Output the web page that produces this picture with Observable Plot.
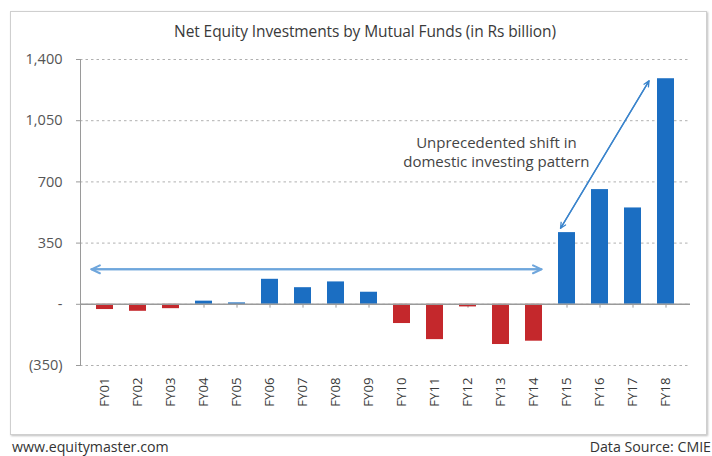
<!DOCTYPE html>
<html>
<head>
<meta charset="utf-8">
<script src="https://cdn.jsdelivr.net/npm/d3@7"></script>
<script src="https://cdn.jsdelivr.net/npm/@observablehq/plot@0.6"></script>
<style>
  html, body { margin: 0; padding: 0; background: #fff; }
  body { width: 712px; height: 456px; position: relative; overflow: hidden; font-family: "Open Sans", sans-serif; }
  .box { position: absolute; left: 10px; top: 11px; width: 695px; height: 422px; border: 1px solid #cfcfcf; box-shadow: 1px 1px 2px #bdbdbd; }
  .title { position: absolute; left: 0; top: 21px; width: 730px; text-align: center; font-size: 15.5px; line-height: 20px; color: #3a3a3a; letter-spacing: -0.1px; }
  #chart { position: absolute; left: 0; top: 0; }
  .foot { position: absolute; top: 438px; font-size: 14.2px; line-height: 18px; color: #333; }
</style>
</head>
<body>
<div class="box"></div>
<div id="chart"></div>
<div class="title">Net Equity Investments by Mutual Funds (in Rs billion)</div>
<div class="foot" style="left:12px;">www.equitymaster.com</div>
<div class="foot" style="right:1px;text-align:right;">Data Source: CMIE</div>
<script>
const years = ["FY01","FY02","FY03","FY04","FY05","FY06","FY07","FY08","FY09","FY10","FY11","FY12","FY13","FY14","FY15","FY16","FY17","FY18"];
const values = [-30, -40, -25, 18, 8, 143, 95, 128, 69, -110, -202, -15, -230, -211, 410, 656, 551, 1290];
const yTicks = [-350, 0, 350, 700, 1050, 1400];

const hArrow = [{from: "FY01", to: "FY14", y: 200}];
const dArrow = [{from: "FY15", to: "FY18", y1: 401, y2: 1344}];
const note = [{x: "FY13", y: 876, text: "Unprecedented shift in\ndomestic investing pattern"}];

const blue = "#1b6ec2";
const red = "#c4282c";
const data = years.map((fy, i) => ({fy, v: values[i]}));

const fmt = d3.format(",");
const tickFormat = d => d < 0 ? `(${fmt(-d)})` : d === 0 ? "-" : fmt(d);

const chart = Plot.plot({
  width: 712,
  height: 410,
  marginLeft: 80,
  marginRight: 22,
  marginTop: 59,
  marginBottom: 45,
  style: {fontFamily: "Open Sans", fontSize: "13px", color: "#555", background: "transparent", overflow: "visible"},
  x: {domain: years, paddingInner: 0.48, paddingOuter: 0.24, label: null},
  y: {domain: [-350, 1400], label: null},
  marks: [
    Plot.gridY(yTicks, {stroke: "#b0b0b0", strokeOpacity: 1, strokeDasharray: "2.5,3"}),
    Plot.frame({anchor: "left", stroke: "#9a9a9a"}),
    Plot.axisY(yTicks, {tickSize: 4, tickPadding: 14, tickFormat, fontSize: 14.5, fill: "#555", stroke: "#9a9a9a"}),
    Plot.axisX({tickSize: 0, tickPadding: 12, tickRotate: -90, fontSize: 13.2, fill: "#3a3a3a"}),
    Plot.ruleX(data, {x: "fy", y1: 0, y2: -22, stroke: "#9a9a9a"}),
    Plot.barY(data, {x: "fy", y: "v", fill: d => d.v < 0 ? red : blue}),
    Plot.ruleY([0], {stroke: "#9a9a9a", strokeWidth: 1.5}),
    Plot.arrow(hArrow, {x1: "from", x2: "to", y1: "y", y2: "y", insetStart: -13.6, insetEnd: -7.5, stroke: "#6fa6dc", strokeWidth: 2, headLength: 7, headAngle: 50}),
    Plot.arrow(hArrow, {x1: "to", x2: "from", y1: "y", y2: "y", insetStart: -7.5, insetEnd: -13.6, stroke: "#6fa6dc", strokeWidth: 2, headLength: 7, headAngle: 50}),
    Plot.arrow(dArrow, {x1: "from", x2: "to", y1: "y1", y2: "y2", dx: -10, insetStart: 6.85, insetEnd: 13.5, stroke: "#3a84cc", strokeWidth: 1.3, headLength: 7, headAngle: 50}),
    Plot.arrow(dArrow, {x1: "to", x2: "from", y1: "y2", y2: "y1", dx: -10, insetStart: 13.5, insetEnd: 6.85, stroke: "#3a84cc", strokeWidth: 1.3, headLength: 7, headAngle: 50}),
    Plot.text(note, {x: "x", y: "y", text: "text", dx: -4.6, fontSize: 15, lineHeight: 1.3, fill: "#444"})
  ]
});
document.getElementById("chart").appendChild(chart);
</script>
</body>
</html>
